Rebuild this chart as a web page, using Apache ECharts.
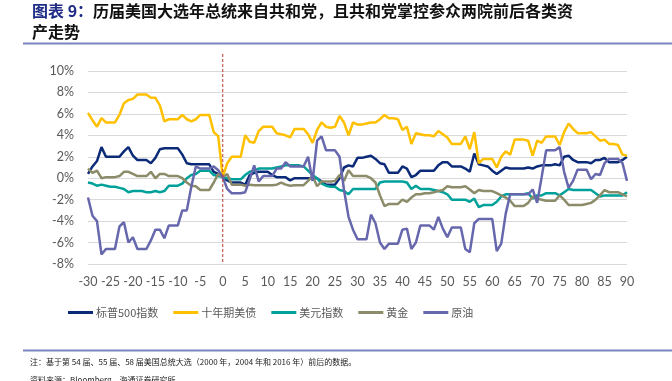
<!DOCTYPE html>
<html><head><meta charset="utf-8">
<script src="https://cdn.jsdelivr.net/npm/echarts@6/dist/echarts.min.js"></script>
<style>html,body{margin:0;padding:0;background:#fff}#c{width:672px;height:381px}</style>
</head><body><div id="c"></div>
<script>
// days relative to the election (-30 .. 90)
const days = [];
for (let d = -30; d <= 90; d++) days.push(d);
const xTicks = {min: -30, max: 90, step: 5};
const yTicks = {min: -8, max: 10, step: 2};

const seriesNames = ['标普500指数', '十年期美债', '美元指数', '黄金', '原油'];

const spx = [
 0.4,1.1,1.6,2.9,2.0,2.0,2.0,2.0,2.5,2.9,
 2.1,1.7,1.7,1.7,1.4,1.9,2.7,2.8,2.8,2.8,
 2.8,2.2,1.4,1.3,1.3,1.3,1.3,1.3,0.6,0.4,
 0.1,-0.2,-0.4,-0.4,-0.4,-0.6,0.3,0.5,0.6,0.6,
 0.6,0.3,0.1,0.1,0.1,-0.2,0.0,0.0,0.0,0.0,
 0.0,0.0,-0.3,-0.6,-0.6,-0.6,0.0,1.0,1.2,1.1,
 1.9,1.9,2.0,2.1,1.8,1.4,1.3,0.5,0.5,0.5,
 1.1,0.9,0.1,0.3,0.7,0.7,0.7,0.7,1.2,1.5,
 1.5,1.1,1.1,1.1,0.9,0.6,2.3,1.3,1.2,1.1,
 0.7,0.4,0.7,1.0,0.9,0.9,0.9,0.9,1.0,0.9,
 1.1,1.2,1.2,1.2,1.3,1.2,2.0,2.1,1.7,1.5,
 1.5,1.5,1.4,1.7,1.7,1.9,1.5,1.5,1.5,1.7,
 2.0];
const ust10y = [
 6.1,5.4,4.8,5.6,5.2,5.2,5.2,5.9,7.0,7.3,
 7.4,7.8,7.8,7.8,7.5,7.5,6.8,5.3,5.5,5.5,
 5.5,5.9,5.5,5.3,5.5,5.9,5.9,5.9,4.3,3.9,
 0.1,1.4,2.0,2.0,2.0,4.0,3.4,3.3,4.4,4.8,
 4.8,4.8,4.2,4.1,4.0,3.8,4.6,4.6,4.6,4.1,
 3.3,4.5,5.2,4.8,4.7,4.8,5.8,5.2,4.0,5.2,
 5.0,5.0,5.1,5.2,5.2,5.5,5.9,5.6,5.6,5.5,
 4.5,4.8,3.2,4.2,4.1,4.0,4.0,3.9,4.4,4.1,
 3.8,3.2,3.2,3.2,3.9,2.7,4.3,1.4,1.8,1.8,
 1.8,1.0,2.0,2.5,2.2,3.6,3.6,3.6,3.5,2.1,
 3.5,3.3,3.9,3.9,3.9,3.1,4.3,5.1,4.6,4.2,
 4.2,4.2,4.3,3.9,3.5,3.6,3.2,3.2,3.1,2.2,
 2.1];
const usd = [
 -0.4,-0.5,-0.7,-0.6,-0.7,-0.8,-0.8,-0.9,-1.0,-1.3,
 -1.2,-1.2,-1.2,-1.3,-1.3,-1.2,-1.3,-1.2,-0.7,-0.7,
 -0.7,-0.5,0.0,0.3,0.4,0.7,0.7,0.7,0.3,0.2,
 0.1,0.0,-0.1,-0.1,-0.1,0.3,0.6,0.7,0.9,0.9,
 0.9,0.9,1.0,1.1,1.2,1.2,1.2,1.2,1.1,0.7,
 0.3,0.0,-0.5,-0.7,-0.8,-0.8,-1.1,-1.2,-1.5,-1.0,
 -1.0,-1.0,-1.0,-1.0,-1.0,-0.4,-0.3,-0.3,-0.3,-0.3,
 -0.3,-0.4,-1.0,-0.7,-1.0,-1.0,-1.0,-1.1,-1.2,-1.3,
 -1.5,-2.0,-2.0,-2.0,-2.0,-2.2,-1.9,-2.7,-2.5,-2.5,
 -2.5,-2.2,-1.7,-1.5,-1.5,-1.5,-1.5,-1.5,-1.4,-1.9,
 -1.6,-1.6,-1.4,-1.4,-1.4,-1.6,-1.3,-1.0,-1.1,-1.1,
 -1.1,-1.1,-1.1,-1.4,-1.7,-1.6,-1.6,-1.6,-1.6,-1.6,
 -1.3];
const gold = [
 0.9,0.5,0.7,0.0,0.1,0.1,0.1,0.2,0.6,0.6,
 0.4,0.2,0.2,0.2,0.6,0.0,0.4,0.4,0.2,0.2,
 0.2,0.0,-0.4,-0.7,-0.75,-1.1,-1.1,-1.1,-0.4,0.4,
 0.1,0.4,-0.6,-0.6,-0.6,-0.7,-0.6,-0.65,-0.65,-0.65,
 -0.65,-0.65,-0.6,-0.4,-0.6,-0.7,-0.65,-0.65,-0.65,-0.25,
 0.2,-0.75,-0.3,-0.3,-0.3,-0.25,0.3,-0.25,0.75,0.2,
 0.2,0.2,0.2,0.0,-0.4,-1.6,-2.6,-2.4,-2.4,-2.4,
 -2.0,-2.2,-1.8,-1.5,-1.5,-1.4,-1.4,-1.3,-1.2,-1.1,
 -0.75,-0.85,-0.85,-0.85,-0.75,-1.05,-1.4,-1.1,-1.2,-1.2,
 -1.2,-1.4,-1.6,-1.8,-2.1,-2.6,-2.6,-2.6,-2.3,-1.7,
 -1.9,-2.0,-2.1,-2.1,-2.1,-1.6,-2.0,-2.5,-2.5,-2.5,
 -2.5,-2.4,-2.3,-2.0,-1.6,-1.1,-1.3,-1.3,-1.3,-1.5,
 -1.7];
const oil = [
 -1.8,-3.5,-4.0,-7.1,-6.6,-6.6,-6.6,-4.5,-4.1,-6.0,
 -5.5,-6.6,-6.6,-6.6,-5.8,-4.8,-4.8,-5.6,-4.4,-4.4,
 -4.4,-3.0,-3.0,-0.8,1.1,0.9,0.9,0.9,1.1,0.75,
 0.1,-1.0,-1.4,-1.4,-1.4,-1.3,-0.1,1.2,-0.3,0.2,
 0.2,0.2,0.9,0.9,1.5,1.1,1.1,1.1,1.1,2.0,
 -0.25,3.5,3.9,2.6,2.6,2.6,2.0,-1.1,-3.6,-4.8,
 -5.7,-5.7,-5.7,-3.4,-4.2,-6.0,-6.6,-6.1,-6.1,-6.1,
 -4.8,-4.7,-6.6,-6.0,-4.4,-4.4,-4.4,-4.8,-3.6,-4.7,
 -5.5,-4.6,-4.6,-4.6,-6.6,-6.9,-4.2,-3.8,-3.8,-3.8,
 -3.8,-6.8,-6.1,-3.3,-1.5,-1.5,-1.5,-1.5,-1.5,-1.05,
 -2.3,0.1,2.6,2.6,2.6,2.9,0.6,-0.9,-0.25,0.8,
 0.8,0.8,-0.1,0.4,0.3,1.4,1.8,1.8,1.8,1.4,
 -0.25];
// election-day reference line (x = 0)
const electionDay = [[0, 0], [0, 1]];

const colors = ['#0b2a78', '#FFC000', '#00A19A', '#8C8C6A', '#6767AD'];
const valueSets = [spx, ust10y, usd, gold, oil];

const chart = echarts.init(document.getElementById('c'), null, {renderer: 'canvas'});
const mainSeries = valueSets.map((vals, k) => ({
  name: seriesNames[k], type: 'line', xAxisIndex: 0, yAxisIndex: 0,
  showSymbol: false, symbol: 'none', animation: false,
  lineStyle: {width: 2.5, color: colors[k]}, itemStyle: {color: colors[k]},
  data: days.map((d, i) => [d, vals[i]])
}));
mainSeries.push({
  name: 'election', type: 'line', xAxisIndex: 1, yAxisIndex: 1, showSymbol: false, symbol: 'none',
  animation: false, silent: true,
  lineStyle: {width: 1, color: '#C0392B', type: [3, 2]},
  data: electionDay
});

const cjk = '"Noto Sans CJK SC", sans-serif';
chart.setOption({
  backgroundColor: '#fff',
  animation: false,
  textStyle: {fontFamily: 'Lato, "Noto Sans CJK SC", sans-serif'},
  grid: [
    {left: 88, top: 71, width: 539, height: 193},
    {left: 88, top: 52, width: 539, height: 210}
  ],
  xAxis: [
    {type: 'value', gridIndex: 0, min: xTicks.min, max: xTicks.max, interval: xTicks.step,
     axisLine: {show: false}, axisTick: {show: false}, splitLine: {show: false},
     axisLabel: {color: '#595959', fontSize: 12.5, margin: 11, fontFamily: 'Lato'}},
    {type: 'value', gridIndex: 1, min: xTicks.min, max: xTicks.max, show: false}
  ],
  yAxis: [
    {type: 'value', gridIndex: 0, min: yTicks.min, max: yTicks.max, interval: yTicks.step,
     axisLine: {show: false}, axisTick: {show: false},
     splitLine: {lineStyle: {color: '#d9d9d9', width: 1}},
     axisLabel: {color: '#595959', fontSize: 12.5, margin: 14, fontFamily: 'Lato', formatter: '{value}%'}},
    {type: 'value', gridIndex: 1, min: 0, max: 1, show: false}
  ],
  legend: {
    data: seriesNames, left: 68, top: 307, padding: 0, itemWidth: 25, itemHeight: 3, itemGap: 15,
    icon: 'rect',
    textStyle: {color: '#595959', fontSize: 11, fontFamily: cjk, padding: [0, 0, 0, -2]}
  },
  graphic: [
    {type: 'text', left: 32, top: 3, silent: true,
     style: {text: '{a|图表 9：}{b|历届美国大选年总统来自共和党，且共和党掌控参众两院前后各类资}',
       rich: {a: {fill: '#1F2D87', font: 'bold 16px ' + cjk}, b: {fill: '#111', font: 'bold 16px ' + cjk}}}},
    {type: 'text', left: 32, top: 24, silent: true,
     style: {text: '产走势', fill: '#111', font: 'bold 16px ' + cjk}},
    {type: 'line', silent: true, shape: {x1: 23, y1: 43.5, x2: 672, y2: 43.5},
     style: {stroke: '#7A84BE', lineWidth: 2}},
    {type: 'line', silent: true, shape: {x1: 23, y1: 350.5, x2: 672, y2: 350.5},
     style: {stroke: '#7A84BE', lineWidth: 2}},
    {type: 'text', left: 30, top: 358, silent: true,
     style: {text: '注：基于第 54 届、55 届、58 届美国总统大选（2000 年，2004 年和 2016 年）前后的数据。',
       fill: '#222', font: '8px ' + cjk}},
    {type: 'text', left: 30, top: 376, silent: true,
     style: {text: '资料来源：Bloomberg，海通证券研究所', fill: '#222', font: '8px ' + cjk}}
  ],
  series: mainSeries
});
</script></body></html>
